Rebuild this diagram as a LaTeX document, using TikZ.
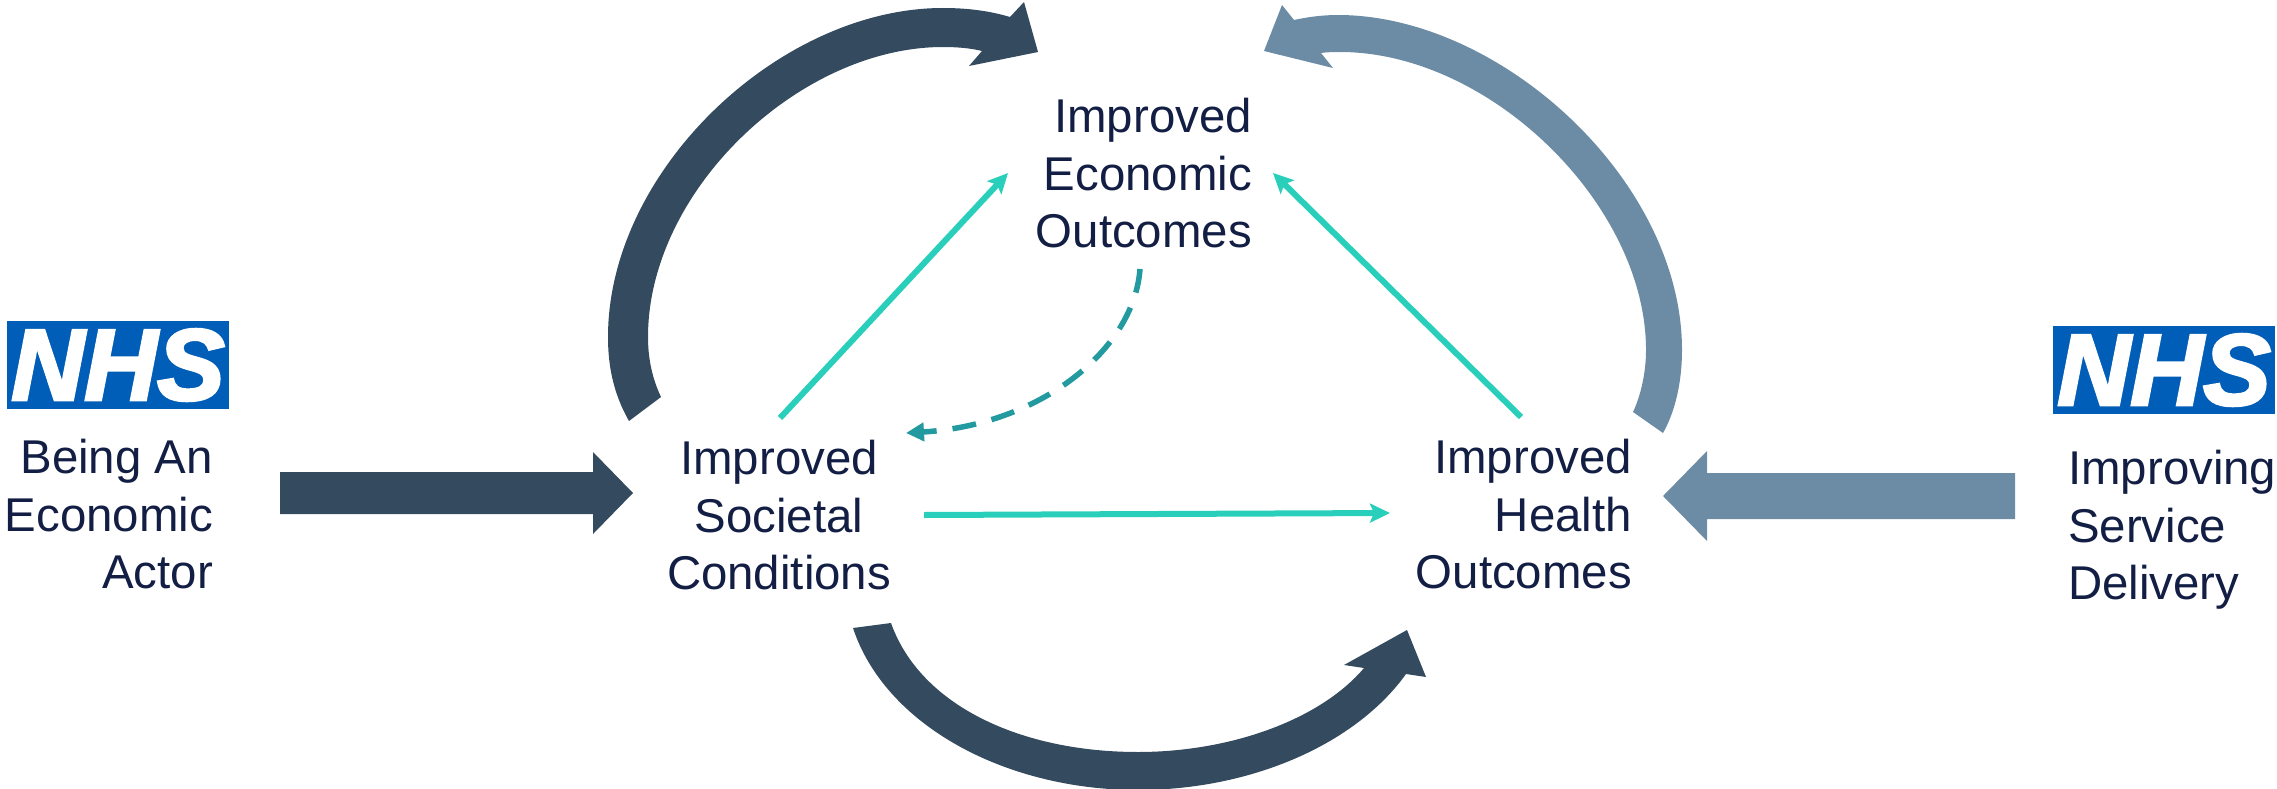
\documentclass[tikz,border=0pt]{standalone}
\usepackage{fontspec}
\setmainfont{Liberation Sans}
\newfontfamily\nhsfont[BoldItalicFeatures={FakeBold=3}]{Liberation Sans}
\usetikzlibrary{arrows.meta}
\definecolor{darkblue}{HTML}{344A5E}
\definecolor{lightblue}{HTML}{6C8CA5}
\definecolor{inktext}{HTML}{131E44}
\definecolor{mint}{HTML}{29CFBA}
\definecolor{deepteal}{HTML}{229AA0}
\definecolor{nhsblue}{HTML}{005EB8}
\tikzset{
  label text/.style={inner sep=0pt,text=inktext,font=\fontsize{47.4pt}{57.5pt}\selectfont},
  nhsbox/.style={fill=nhsblue,text=white,inner sep=0pt,minimum width=222pt,minimum height=88pt,font=\fontsize{101pt}{101pt}\nhsfont\bfseries\itshape},
  mintarrow/.style={draw=mint,line width=6pt,-{Stealth[length=20pt,width=19pt,inset=4pt]}},
  dashedarrow/.style={draw=deepteal,line width=5.5pt,dash pattern=on 24pt off 16pt,-{Triangle[length=18pt,width=18pt]}},
}
\begin{document}
\begin{tikzpicture}[x=1pt,y=-1pt]
\useasboundingbox (0,0) rectangle (2277,789);
% logos
\node[nhsbox] (nhsL) at (118,365) {NHS};
\node[nhsbox] (nhsR) at (2164,370) {NHS};
% labels
\node[label text,anchor=north east,align=right] (actor) at (213,439) {Being An\\Economic\\Actor};
\node[label text,anchor=north west,align=left] (service) at (2068,450) {Improving\\Service\\Delivery};
\node[label text,anchor=north east,align=right] (econ) at (1252,98) {Improved\\Economic\\Outcomes};
\node[label text,anchor=north,align=center] (soc) at (779,440) {Improved\\Societal\\Conditions};
\node[label text,anchor=north east,align=right] (health) at (1632,439) {Improved\\Health\\Outcomes};
% big curved arrows
\fill[darkblue] (629,421) .. controls (613,393) and (608,365) .. (608,337)
  .. controls (608,170) and (780,8) .. (943,8)
  .. controls (968,8) and (990,11) .. (1010,17)
  -- (1024,2) -- (1038,52) -- (969,66) -- (982,51)
  .. controls (970,48) and (956,47) .. (943,47)
  .. controls (800,47) and (648,190) .. (648,337)
  .. controls (648,358) and (652,378) .. (661,397) -- cycle;
\fill[lightblue] (1663,433) .. controls (1676,410) and (1682,380) .. (1682,350)
  .. controls (1682,180) and (1500,15) .. (1338,15)
  .. controls (1322,15) and (1308,17) .. (1294,20)
  -- (1282,5) -- (1264,51) -- (1333,68) -- (1321,53)
  .. controls (1328,52) and (1334,52) .. (1340,52)
  .. controls (1490,52) and (1646,205) .. (1646,350)
  .. controls (1646,372) and (1641,395) .. (1633,412) -- cycle;
\fill[darkblue] (853,628) .. controls (885,725) and (1005,790) .. (1138,790)
  .. controls (1250,790) and (1355,745) .. (1406,674)
  -- (1426,677) -- (1407,630) -- (1344,665) -- (1364,668)
  .. controls (1320,720) and (1230,752) .. (1138,752)
  .. controls (1020,752) and (920,705) .. (891,623) -- cycle;
% block arrows
\fill[darkblue] (280,472) -- (593,472) -- (593,452) -- (633,493) -- (593,534) -- (593,514) -- (280,514) -- cycle;
\fill[lightblue] (2015,473) -- (1707,473) -- (1707,451) -- (1663,496) -- (1707,541) -- (1707,519) -- (2015,519) -- cycle;
% connector ends
\coordinate (socA) at (780,418);
\coordinate (econA) at (1008,173);
\coordinate (healthA) at (1521,417);
\coordinate (econB) at (1273,173);
\coordinate (socB) at (924,515);
\coordinate (healthB) at (1390,513);
\coordinate (econC) at (1140,269);
\coordinate (socC) at (906,433);
\draw[mintarrow] (socA) -- (econA);
\draw[mintarrow] (healthA) -- (econB);
\draw[mintarrow] (socB) -- (healthB);
\draw[dashedarrow] (econC) .. controls (1134,350) and (1040,425) .. (socC);
\end{tikzpicture}
\end{document}
